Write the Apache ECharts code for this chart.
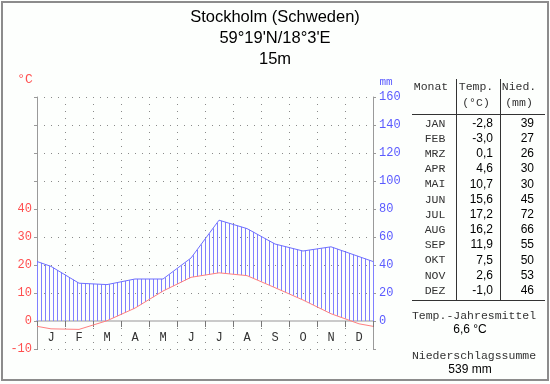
<!DOCTYPE html>
<html>
<head>
<meta charset="utf-8">
<script src="https://cdn.jsdelivr.net/npm/echarts@6/dist/echarts.min.js"></script>
<style>
html,body{margin:0;padding:0;background:#fdfffd;}
#chart{width:550px;height:384px;}
</style>
</head>
<body>
<div id="chart"></div>
<script>
// ---------------- data ----------------
const MONTH_LETTERS = ['J','F','M','A','M','J','J','A','S','O','N','D'];
const MONTH_ABBR = ['JAN','FEB','MRZ','APR','MAI','JUN','JUL','AUG','SEP','OKT','NOV','DEZ'];
const TEMP = [-2.8, -3.0, 0.1, 4.6, 10.7, 15.6, 17.2, 16.2, 11.9, 7.5, 2.6, -1.0];
const PRECIP = [39, 27, 26, 30, 30, 45, 72, 66, 55, 50, 53, 46];
const TEMP_LABEL_MAX = 40;
const TITLE_LINES = ['Stockholm (Schweden)', "59°19'N/18°3'E", '15m'];
const TABLE_HEAD = [['Monat', ''], ['Temp.', '(°C)'], ['Nied.', '(mm)']];
const SUMMARY_LABELS = ['Temp.-Jahresmittel', 'Niederschlagssumme'];

// axis ranges
const T_MIN = -10, T_MAX = 80, T_STEP = 10;
const P_MIN = -20, P_MAX = 160, P_STEP = 20;

// ---------------- helpers ----------------
function cyclic(arr) {
  const n = arr.length;
  const edge = (arr[n - 1] + arr[0]) / 2;
  const pts = [[0, edge]];
  arr.forEach((v, i) => pts.push([i + 0.5, v]));
  pts.push([n, edge]);
  return pts;
}
const tempPts = cyclic(TEMP);
const precPts = cyclic(PRECIP);

const fmt1 = v => v.toFixed(1).replace('.', ',');
const meanT = TEMP.reduce((a, b) => a + b, 0) / TEMP.length;
const sumP = PRECIP.reduce((a, b) => a + b, 0);

const MONO = 'Liberation Mono';
const SANS = 'Liberation Sans';
const RED = '#ff4f4f';
const BLUE = '#5a5aff';
const HATCH = '#8080ff';

// ---------------- graphic ----------------
function txt(text, x, y, opts) {
  opts = opts || {};
  return {
    type: 'text', x: x, y: y, silent: true,
    style: {
      text: text,
      fill: opts.fill || '#000',
      font: (opts.size || 12) + 'px "' + (opts.family || SANS) + '"',
      align: opts.align || 'center', textAlign: opts.align || 'center',
      verticalAlign: 'middle', textVerticalAlign: 'middle'
    }
  };
}
function line(x1, y1, x2, y2, color, w) {
  return { type: 'line', silent: true, shape: { x1: x1, y1: y1, x2: x2, y2: y2 },
    style: { stroke: color || '#333', lineWidth: w || 1 } };
}

const graphics = [];
graphics.push({ type: 'rect', silent: true, shape: { x: 2, y: 2, width: 546, height: 378 },
  style: { fill: 'none', stroke: '#8c8c8c', lineWidth: 2 } });
TITLE_LINES.forEach((t, i) => graphics.push(txt(t, 275, 17 + i * 21, { size: 16.5 })));
graphics.push(txt('°C', 25, 80, { fill: RED, family: MONO, size: 13 }));
graphics.push(txt('mm', 386, 82, { fill: BLUE, family: MONO, size: 11 }));

// table
const COL_X = [431, 476, 519];
TABLE_HEAD.forEach((h, i) => {
  graphics.push(txt(h[0], COL_X[i], 87, { family: MONO, size: 11.5, fill: '#333' }));
  if (h[1]) graphics.push(txt(h[1], COL_X[i], 103, { family: MONO, size: 11.5, fill: '#333' }));
});
graphics.push(line(412, 114.5, 545, 114.5, '#333'));
graphics.push(line(412, 300.5, 545, 300.5, '#333'));
graphics.push(line(456.5, 79, 456.5, 300, '#333'));
graphics.push(line(500.5, 79, 500.5, 300, '#333'));
const ROW_Y0 = 123.5, ROW_DY = 15.2;
MONTH_ABBR.forEach((m, i) => {
  const y = ROW_Y0 + i * ROW_DY;
  graphics.push(txt(m, 435, y, { family: MONO, size: 11.5, fill: '#333' }));
  graphics.push(txt(fmt1(TEMP[i]), 493, y, { align: 'right', size: 12 }));
  graphics.push(txt(String(PRECIP[i]), 534, y, { align: 'right', size: 12 }));
});
graphics.push(txt(SUMMARY_LABELS[0], 474, 316, { family: MONO, size: 11.5, fill: '#333' }));
graphics.push(txt(fmt1(meanT) + ' °C', 470, 330, { size: 12 }));
graphics.push(txt(SUMMARY_LABELS[1], 474, 356, { family: MONO, size: 11.5, fill: '#333' }));
graphics.push(txt(sumP + ' mm', 470, 369.5, { size: 12 }));

// ---------------- chart ----------------
const chart = echarts.init(document.getElementById('chart'), null, { renderer: 'canvas' });
const dotted = { color: '#8a8a8a', width: 1, type: [1, 6] };

chart.setOption({
  backgroundColor: '#fdfffd',
  animation: false,
  grid: { left: 37, top: 97, width: 336, height: 252, containLabel: false },
  xAxis: [
    {
      type: 'category', data: MONTH_LETTERS, boundaryGap: true, position: 'bottom',
      axisLine: { show: true, onZero: true, onZeroAxisIndex: 0, lineStyle: { color: '#cacaca', width: 2 } },
      axisTick: { show: true, length: 6, lineStyle: { color: '#777', width: 1 } },
      axisLabel: { color: '#333', fontFamily: MONO, fontSize: 12, margin: -17 },
      splitLine: { show: true, lineStyle: dotted }
    },
    { type: 'value', min: 0, max: 12, show: false, axisLine: { onZero: false } }
  ],
  yAxis: [
    {
      type: 'value', min: T_MIN, max: T_MAX, interval: T_STEP, position: 'left',
      axisLine: { show: true, onZero: false, lineStyle: { color: '#9a9a9a', width: 1 } },
      axisTick: { show: true, length: 3, lineStyle: { color: '#9a9a9a' } },
      axisLabel: { color: RED, fontFamily: MONO, fontSize: 12, margin: 5,
        formatter: v => (v <= TEMP_LABEL_MAX ? String(v) : '') },
      splitLine: { show: true, lineStyle: dotted }
    },
    {
      type: 'value', min: P_MIN, max: P_MAX, interval: P_STEP, position: 'right',
      axisLine: { show: true, onZero: false, lineStyle: { color: '#9a9a9a', width: 1 } },
      axisTick: { show: true, length: 3, lineStyle: { color: '#9a9a9a' } },
      axisLabel: { color: BLUE, fontFamily: MONO, fontSize: 12, margin: 6,
        formatter: v => (v >= 0 ? String(v) : '') },
      splitLine: { show: false }
    }
  ],
  graphic: graphics,
  series: [
    {
      type: 'line', xAxisIndex: 1, yAxisIndex: 1, z: 3, data: precPts,
      showSymbol: false, symbol: 'none', lineStyle: { color: '#6f6fff', width: 1 }, silent: true
    },
    {
      type: 'line', xAxisIndex: 1, yAxisIndex: 0, z: 3, data: tempPts,
      showSymbol: false, symbol: 'none', lineStyle: { color: '#ff8080', width: 1 }, silent: true
    }
  ]
});

// ---------------- hatching (humid area), positioned through the chart's own scales ----------------
(function addHatch() {
  const toPx = (x, v, yi) => chart.convertToPixel({ xAxisIndex: 1, yAxisIndex: yi }, [x, v]);
  const g0 = toPx(0, 0, 0);
  const left = g0[0], zeroY = g0[1];
  const step = 4;
  const lines = [];
  for (let i = 0; i < tempPts.length - 1; i++) {
    const A = toPx(precPts[i][0], precPts[i][1], 1);
    const B = toPx(precPts[i + 1][0], precPts[i + 1][1], 1);
    const TA = toPx(tempPts[i][0], tempPts[i][1], 0);
    const TB = toPx(tempPts[i + 1][0], tempPts[i + 1][1], 0);
    const last = i === tempPts.length - 2;
    let k = Math.ceil((A[0] - left) / step - 1e-6);
    for (;; k++) {
      const px = left + k * step;
      if (px > B[0] + 1e-6 || (!last && px >= B[0] - 1e-6)) break;
      const f = (px - A[0]) / (B[0] - A[0]);
      const yTop = A[1] + f * (B[1] - A[1]);
      const yT = TA[1] + f * (TB[1] - TA[1]);
      const yBot = Math.min(yT, zeroY);
      if (yTop < yBot) {
        lines.push({ type: 'line', silent: true, z: 2,
          shape: { x1: Math.round(px) + 0.5, y1: yTop, x2: Math.round(px) + 0.5, y2: yBot },
          style: { stroke: HATCH, lineWidth: 1 } });
      }
    }
  }
  chart.setOption({ graphic: graphics.concat([{ type: 'group', z: 2, children: lines }]) });
})();
</script>
</body>
</html>
